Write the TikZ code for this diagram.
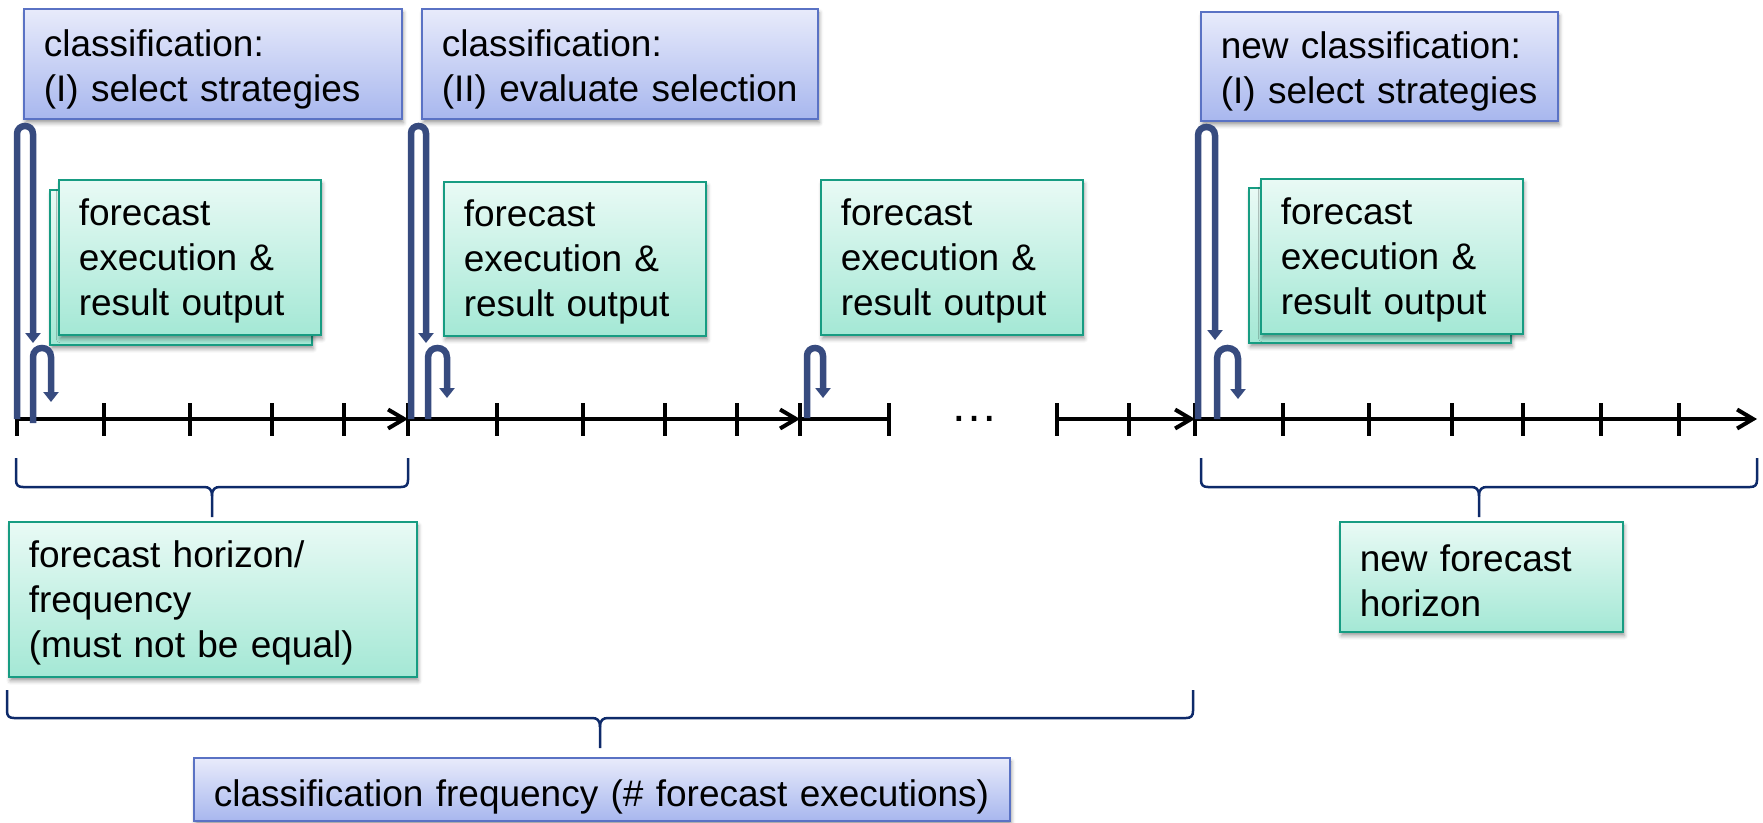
\documentclass[tikz,border=0pt]{standalone}
\usepackage{fontspec}
\setmainfont{Liberation Sans}
\usetikzlibrary{arrows.meta,shadows.blur}

\definecolor{bluetop}{HTML}{E8EBFB}
\definecolor{bluebot}{HTML}{A8B7EE}
\definecolor{blueedge}{HTML}{5A72C4}
\definecolor{greentop}{HTML}{E9FAF5}
\definecolor{greenbot}{HTML}{A4E8D5}
\definecolor{greenedge}{HTML}{179C82}
\definecolor{loopblue}{HTML}{374B7F}
\definecolor{bracenavy}{HTML}{0E2A6A}

\newcommand\boxfont{\fontsize{37}{45}\selectfont}

% curly brace: left x, right x, top y, bar y, tip x, tip y
\newcommand\drawcurly[6]{%
  \draw[bracestroke] (#1,#3) -- (#1,#4-7) .. controls (#1,#4-2) and (#1+2,#4) .. (#1+7,#4)
     -- (#5-8,#4) .. controls (#5-3,#4) and (#5,#4+2) .. (#5,#4+9) -- (#5,#6);
  \draw[bracestroke] (#2,#3) -- (#2,#4-7) .. controls (#2,#4-2) and (#2-2,#4) .. (#2-7,#4)
     -- (#5+8,#4) .. controls (#5+3,#4) and (#5,#4+2) .. (#5,#4+9);
}

% loop arrow: left leg x, right leg x, start y, bend y, tip y
\newcommand\uturn[5]{%
  \draw[uarrow] (#1,#3) -- (#1,#4)
     .. controls (#1,{#4-(#2-#1)*2/3}) and (#2,{#4-(#2-#1)*2/3}) .. (#2,#4) -- (#2,#5);
}

\begin{document}
\begin{tikzpicture}[x=1pt,y=-1pt,
  boxbase/.style={line width=1.6pt, anchor=north west, inner xsep=20pt, inner ysep=0pt,
    align=left, font=\boxfont,
    blur shadow={shadow xshift=1.5pt, shadow yshift=-4pt, shadow blur radius=4pt, shadow opacity=40}},
  bluebox/.style={boxbase, draw=blueedge, top color=bluetop, bottom color=bluebot, text height=38pt},
  greenbox/.style={boxbase, draw=greenedge, top color=greentop, bottom color=greenbot, text height=34pt},
  axisline/.style={line width=4pt, -{Straight Barb[length=16pt,width=19pt]}},
  plainaxis/.style={line width=4pt},
  tick/.style={line width=4pt},
  uarrow/.style={draw=loopblue, line width=6.5pt, -{Triangle[width=15pt,length=10pt]}},
  bracestroke/.style={draw=bracenavy, line width=2.5pt}
]
\useasboundingbox (0,0) rectangle (1763,822);

% classification steps
\node[bluebox, minimum width=378pt, minimum height=110pt, text width=338pt] (cls1) at (23,8)
  {classification:\\(I) select strategies};
\node[bluebox, minimum width=396pt, minimum height=110pt, text width=356pt] (cls2) at (421,8)
  {classification:\\(II) evaluate selection};
\node[bluebox, minimum width=357pt, minimum height=109pt, text width=317pt] (cls3) at (1200,11)
  {new classification:\\(I) select strategies};

% forecast executions
\node[greenbox, minimum width=262pt, minimum height=155pt] (fc1back) at (49,189) {};
\node[greenbox, minimum width=262pt, minimum height=155pt, text width=222pt] (fc1) at (58,179)
  {forecast\\execution \&\\result output};
\node[greenbox, minimum width=262pt, minimum height=154pt, text width=222pt] (fc2) at (443,181)
  {forecast\\execution \&\\result output};
\node[greenbox, minimum width=262pt, minimum height=155pt, text width=222pt] (fc3) at (820,179)
  {forecast\\execution \&\\result output};
\node[greenbox, minimum width=262pt, minimum height=155pt] (fc4back) at (1248,187) {};
\node[greenbox, minimum width=262pt, minimum height=155pt, text width=222pt] (fc4) at (1260,178)
  {forecast\\execution \&\\result output};

% time axis
\coordinate (a1s) at (17,419);   \coordinate (a1e) at (408,419);
\coordinate (a2s) at (408,419);  \coordinate (a2e) at (800,419);
\coordinate (a3s) at (800,419);  \coordinate (a3e) at (889,419);
\coordinate (a4s) at (1057,419); \coordinate (a4e) at (1195,419);
\coordinate (a5s) at (1195,419); \coordinate (a5e) at (1757,419);
\draw[axisline] (a1s) -- (a1e);
\draw[axisline] (a2s) -- (a2e);
\draw[plainaxis] (a3s) -- (a3e);
\draw[axisline] (a4s) -- (a4e);
\draw[axisline] (a5s) -- (a5e);
\foreach \x in {17,104,190,272,344,408,497,583,665,737,800,889,1057,1129,1195,1283,1369,1452,1523,1601,1679}
  \draw[tick] (\x,403) -- (\x,436);
\node[font=\fontsize{48}{50}\selectfont, anchor=base, inner sep=0pt] (gap) at (974,421) {…};

% loops from classification and forecast runs
\uturn{17}{33}{419}{134}{343}
\uturn{411}{426}{419}{133.5}{343}
\uturn{1198}{1215}{419}{135.5}{340}
\uturn{33}{51}{423}{357}{402}
\uturn{428}{447}{419}{357.5}{398}
\uturn{807}{823}{418}{356}{398}
\uturn{1217}{1238}{419}{358.5}{399}

% horizons
\drawcurly{16}{408}{458}{487}{212}{517}
\drawcurly{1201}{1757}{458}{487}{1479}{517}
\drawcurly{7}{1193}{690}{718}{600}{748}

\node[greenbox, minimum width=408pt, minimum height=155pt, text width=368pt] (horizon) at (8,521)
  {forecast horizon/\\frequency\\(must not be equal)};
\node[greenbox, minimum width=283pt, minimum height=110pt, text width=243pt] (newhorizon) at (1339,521)
  {new forecast\\horizon};
\node[bluebox, text height=43pt, minimum width=816pt, minimum height=63pt, text width=776pt] (clsfreq) at (193,757)
  {classification frequency (\# forecast executions)};
\end{tikzpicture}
\end{document}
